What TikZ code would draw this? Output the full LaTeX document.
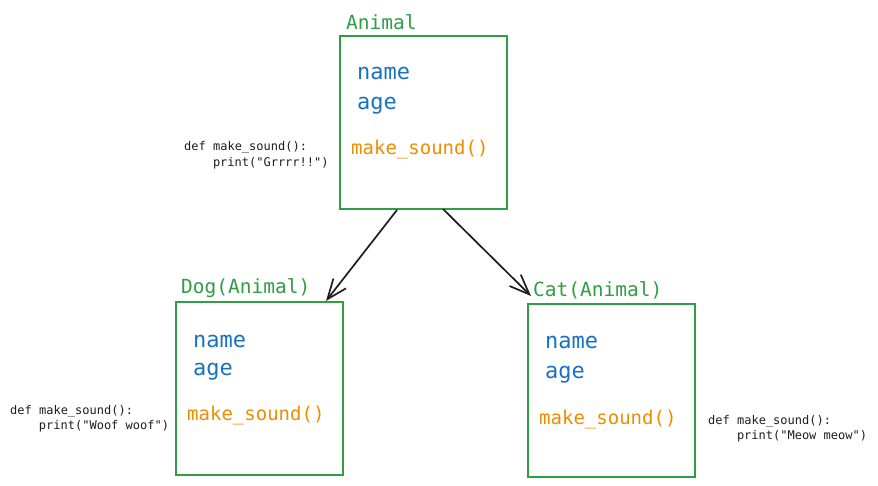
\documentclass[tikz,border=0pt]{standalone}
\usepackage{fontspec}
\setmonofont{DejaVu Sans Mono}
\usetikzlibrary{arrows.meta}

\definecolor{classgreen}{HTML}{2F9E44}
\definecolor{fieldblue}{HTML}{1971C2}
\definecolor{methodorange}{HTML}{F08C00}
\definecolor{inkblack}{HTML}{1E1E1E}

\tikzset{
  classbox/.style={draw=classgreen, line width=2pt, minimum width=167pt,
    minimum height=173pt, inner sep=0pt, anchor=north west},
  classname/.style={anchor=base west, inner sep=0pt, text=classgreen,
    font=\ttfamily\fontsize{19.5}{23}\selectfont},
  field/.style={anchor=base west, inner sep=0pt, text=fieldblue,
    font=\ttfamily\fontsize{22}{26}\selectfont},
  method/.style={anchor=base west, inner sep=0pt, text=methodorange,
    font=\ttfamily\fontsize{19}{23}\selectfont},
  snippet/.style={anchor=north west, inner sep=0pt, align=left, text=inkblack,
    font=\ttfamily\fontsize{12}{15.5}\selectfont},
  inherits/.style={draw=inkblack, line width=1.7pt,
    -{Straight Barb[length=20pt,width=16pt]}}
}

\begin{document}
\begin{tikzpicture}[x=1pt, y=-1pt]
    \fill[white] (0,0) rectangle (878,486);
    \useasboundingbox (0,0) rectangle (878,486);

    % base class
    \node[classbox] (animal) at (339,35) {};
    \node[classname] (animal-title) at (346,30) {Animal};
    \node[field] (animal-name) at (357,80) {name};
    \node[field] (animal-age) at (357,110) {age};
    \node[method] (animal-sound) at (351,155) {make\_sound()};
    \node[snippet] (animal-code) at (184,141.5) {def make\_sound():\\\hspace*{2.4em}print("Grrrr!!")};

    % subclasses
    \node[classbox] (dog) at (175,301) {};
    \node[classname] (dog-title) at (181,294) {Dog(Animal)};
    \node[field] (dog-name) at (193,347) {name};
    \node[field] (dog-age) at (193,375) {age};
    \node[method] (dog-sound) at (187,420) {make\_sound()};
    \node[snippet] (dog-code) at (10,405) {def make\_sound():\\\hspace*{2.4em}print("Woof woof")};

    \node[classbox] (cat) at (527,303) {};
    \node[classname] (cat-title) at (533,297) {Cat(Animal)};
    \node[field] (cat-name) at (545,348) {name};
    \node[field] (cat-age) at (545,378) {age};
    \node[method] (cat-sound) at (539,424) {make\_sound()};
    \node[snippet] (cat-code) at (708,415) {def make\_sound():\\\hspace*{2.4em}print("Meow meow")};

    \draw[inherits] ([xshift=58pt]animal.south west) -- ([xshift=-18pt]dog.north east);
    \draw[inherits] ([xshift=104pt,yshift=1pt]animal.south west) -- ([shift={(4pt,7pt)}]cat.north west);
\end{tikzpicture}
\end{document}
